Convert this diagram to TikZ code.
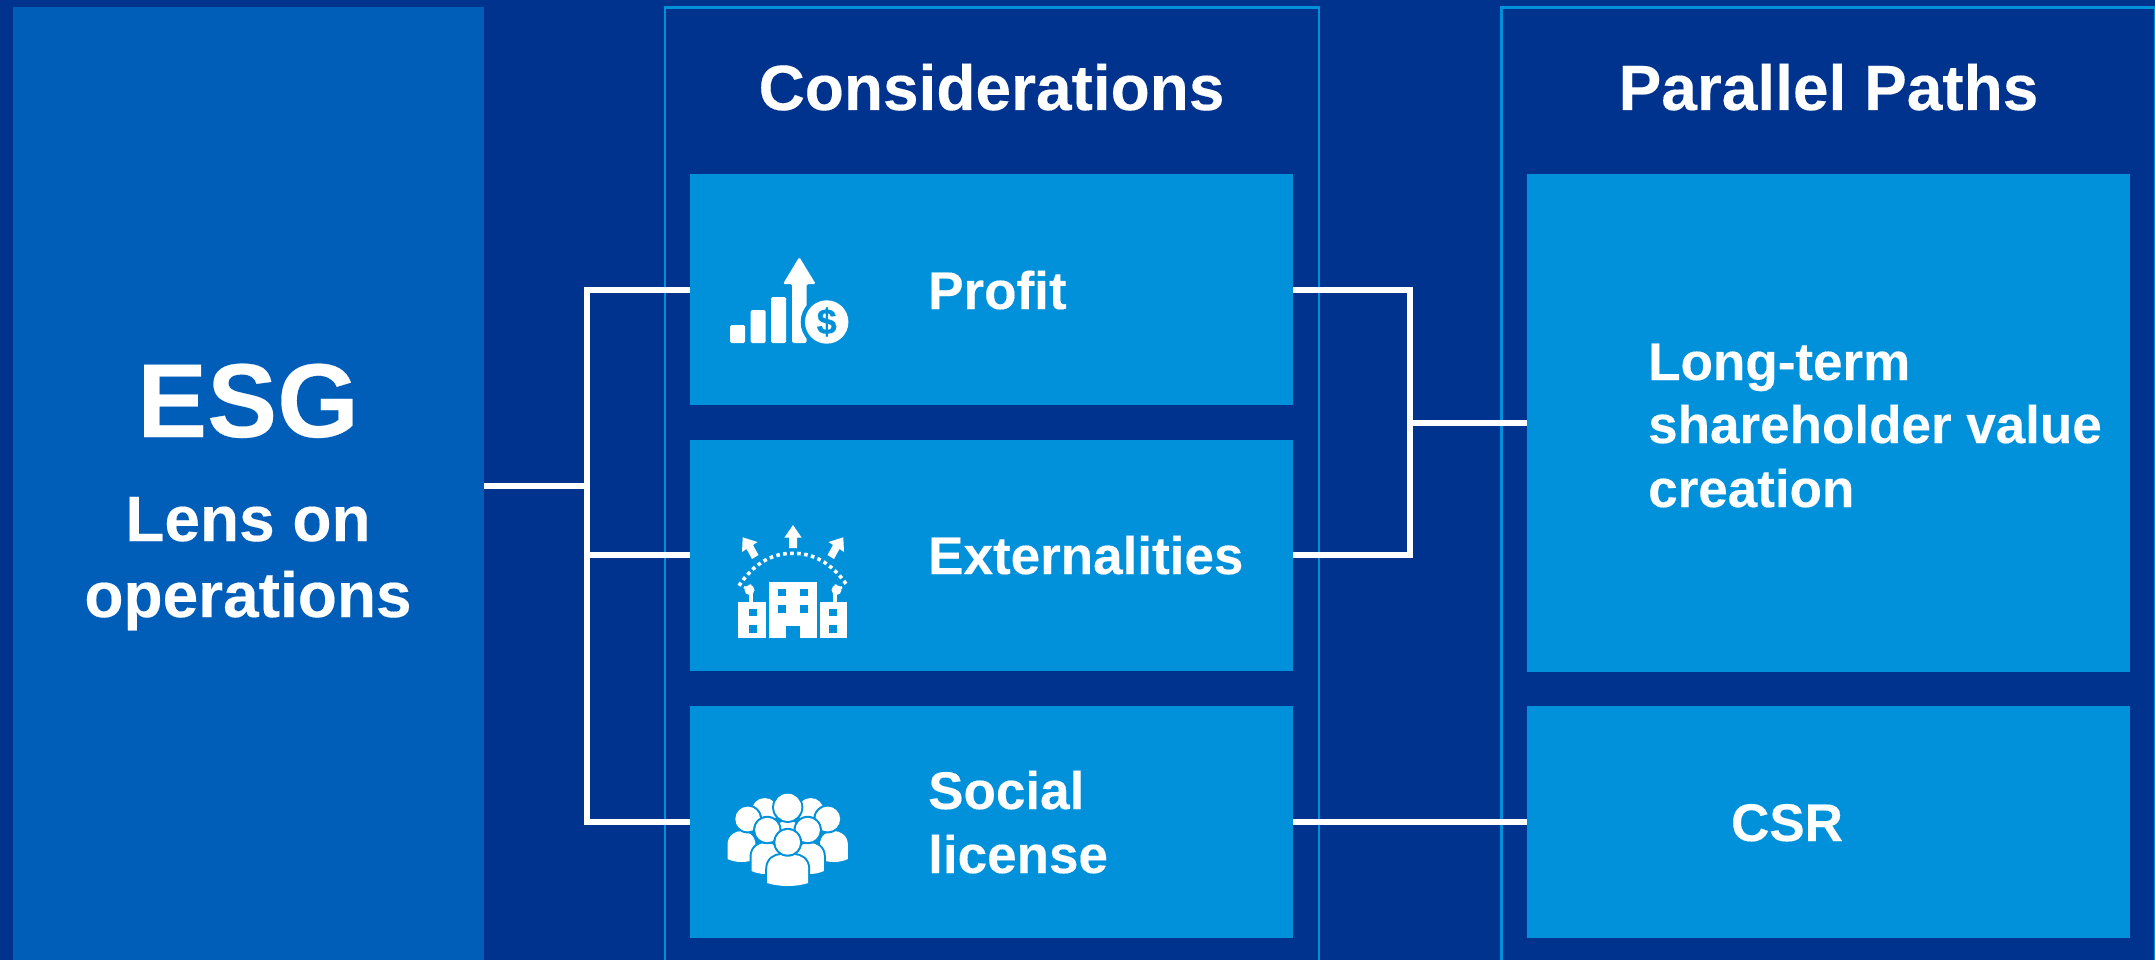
\documentclass[tikz,border=0pt]{standalone}
\usepackage{fontspec}
\setmainfont[BoldFeatures={FakeBold=0.25}]{Liberation Sans}
\definecolor{bgblue}{HTML}{00338D}
\definecolor{midblue}{HTML}{005EB8}
\definecolor{lightblue}{HTML}{0091DA}
\newcommand{\fsz}[1]{\fontsize{#1}{#1}\selectfont\bfseries}
\newcommand{\personpath}[4]{(#1-#3,#4-3)
    -- (#1-#3,#2+14) .. controls (#1-#3,#2+4) and (#1-#3+8,#2) .. (#1-#3+14,#2)
    -- (#1+#3-14,#2) .. controls (#1+#3-8,#2) and (#1+#3,#2+4) .. (#1+#3,#2+14)
    -- (#1+#3,#4-3) .. controls (#1+#3*0.4,#4+1) and (#1-#3*0.4,#4+1) .. (#1-#3,#4-3) -- cycle}
\newcommand{\personbody}[4]{%
  \draw[lightblue,line width=4pt] \personpath{#1}{#2}{#3}{#4};
  \fill[white] \personpath{#1}{#2}{#3}{#4};}
\newcommand{\personhead}[3]{\fill[lightblue] (#1,#2) circle (#3+2); \fill[white] (#1,#2) circle (#3);}
\tikzset{
  panel/.style={fill=lightblue,draw=none,minimum height=#1,minimum width=603pt,anchor=north west,inner sep=0pt},
  frameline/.style={draw=lightblue,line width=2.8pt},
  wire/.style={draw=white,line width=6pt,line join=miter},
  heading/.style={text=white,font=\fsz{64},anchor=base,inner sep=0pt},
  label/.style={text=white,font=\fsz{53},anchor=base west,inner sep=0pt},
  iconw/.style={fill=white,draw=none,rounded corners=1.5pt},
  win/.style={fill=lightblue,draw=none}
}
\begin{document}
\begin{tikzpicture}[x=1pt,y=-1pt]
\useasboundingbox (0,0) rectangle (2155,960);
\fill[bgblue] (0,0) rectangle (2155,960);
% ESG column
\node[fill=midblue,minimum width=470.5pt,minimum height=953pt,anchor=north west,inner sep=0pt] (esg) at (13,7) {};
\node[text=white,font=\fsz{105},anchor=base,inner sep=0pt] (esgt) at (248,437) {ESG};
\node[text=white,font=\fsz{64},anchor=base,inner sep=0pt] (lens) at (248,541) {Lens on};
\node[text=white,font=\fsz{64},anchor=base,inner sep=0pt] (oper) at (248,617) {operations};
% frames
\draw[frameline] (665,965) -- (665,7.5) -- (1319,7.5) -- (1319,965);
\draw[frameline] (1501.5,965) -- (1501.5,7.5) -- (2155.6,7.5) -- (2155.6,965);
\node[heading] (cons) at (991.5,110) {Considerations};
\node[heading] (para) at (1828.5,110) {Parallel Paths};
% panels
\node[panel=231pt] (profit) at (690,174) {};
\node[panel=231pt] (ext) at (690,439.5) {};
\node[panel=232pt] (social) at (690,706) {};
\node[panel=498pt] (lt) at (1527,174) {};
\node[panel=232pt] (csr) at (1527,706) {};
% labels
\node[label] (tprofit) at (928,309) {Profit};
\node[label] (text) at (928,574) {Externalities};
\node[label] (tsoc) at (928,809) {Social};
\node[label] (tlic) at (928,873) {license};
\node[label] (tl1) at (1648,380) {Long-term};
\node[label] (tl2) at (1648,443) {shareholder value};
\node[label] (tl3) at (1648,507) {creation};
\node[text=white,font=\fsz{53},anchor=base,inner sep=0pt] (tcsr) at (1787,841) {CSR};
% connectors
\coordinate (hub) at (587,486);
\coordinate (rhub) at (1410,423);
\draw[wire] (esg.east |- hub) -- (hub);
\draw[wire] (profit.west) -- (hub |- profit.west) -- (hub |- social.west) -- (social.west);
\draw[wire] (hub |- ext.west) -- (ext.west);
\draw[wire] (profit.east) -- (rhub |- profit.east) -- (rhub |- ext.east) -- (ext.east);
\draw[wire] (rhub) -- (lt.west |- rhub);
\draw[wire] (social.east) -- (csr.west);
% icon: profit
\fill[iconw] (730,325) rectangle (745,343);
\fill[iconw] (750.7,310) rectangle (765.7,343);
\fill[iconw] (771,297) rectangle (786,343);
\fill[iconw] (792,343) -- (792,284) -- (783,284) -- (799.3,257) -- (815.7,284) -- (806.7,284) -- (806.7,343) -- cycle;
\fill[lightblue] (826.7,322) circle (26);
\fill[white] (826.7,322) circle (21.7);
\node[text=lightblue,font=\fsz{36},inner sep=0pt] (dollar) at (826.7,322) {\$};
% icon: externalities
\fill[white] (738,601.7) rectangle (765.7,637.7);
\fill[white] (769.3,581.7) rectangle (816.7,637.7);
\fill[white] (820,601.7) rectangle (847.3,637.7);
\foreach \p in {(753,612.7),(753,629),(833,612.7),(833,629),(782,592.3),(804,592.3),(782,609),(804,609)}
  \fill[win] \p ++(-3.7,-3.7) rectangle ++(7.4,7.4);
\fill[win] (785.7,625.7) rectangle (800.3,637.7);
\draw[white,line width=3.3pt] (751,592) -- (751,602);
\draw[white,line width=3.3pt] (835,592) -- (835,602);
\fill[white] (749.5,590) circle (5);
\fill[white] (836.5,590) circle (5);
\draw[white,line width=2.4pt] (744,587) -- (749,590) (750,584.5) -- (751,589);
\draw[white,line width=2.4pt] (842,587) -- (837,590) (836,584.5) -- (835,589);
\draw[white,line width=3.6pt,dash pattern=on 3.6pt off 3.4pt] (739,585.7) .. controls (755,562) and (773,553.3) .. (793,553.3) .. controls (813,553.3) and (831,562) .. (847.3,585.7);
\fill[white] (793,525) -- (801.7,537.7) -- (797,537.7) -- (797,548) -- (789,548) -- (789,537.7) -- (784.3,537.7) -- cycle;
\fill[white] (742.7,537.3) -- (757.5,542) -- (753,545) -- (758.5,555) -- (752,559) -- (746.5,549) -- (742,552) -- cycle;
\fill[white] (843.3,537.3) -- (828.5,542) -- (833,545) -- (827.5,555) -- (834,559) -- (839.5,549) -- (844,552) -- cycle;
% icon: social
\personhead{764.7}{811}{13}
\personhead{810.7}{811}{13}
\personbody{787.7}{820}{13}{840}
\personhead{787.7}{807.3}{13.6}
\personbody{741.5}{831}{14}{862}
\personbody{833.9}{831}{14}{862}
\personhead{747.7}{819}{12.4}
\personhead{827.7}{819}{12.4}
\personbody{766}{843}{14.5}{874}
\personbody{809.4}{843}{14.5}{874}
\personhead{767.3}{830}{12.2}
\personhead{807.7}{830}{12.2}
\personbody{787.7}{855}{20.5}{886}
\personhead{787.7}{842.3}{12.4}
\end{tikzpicture}
\end{document}
